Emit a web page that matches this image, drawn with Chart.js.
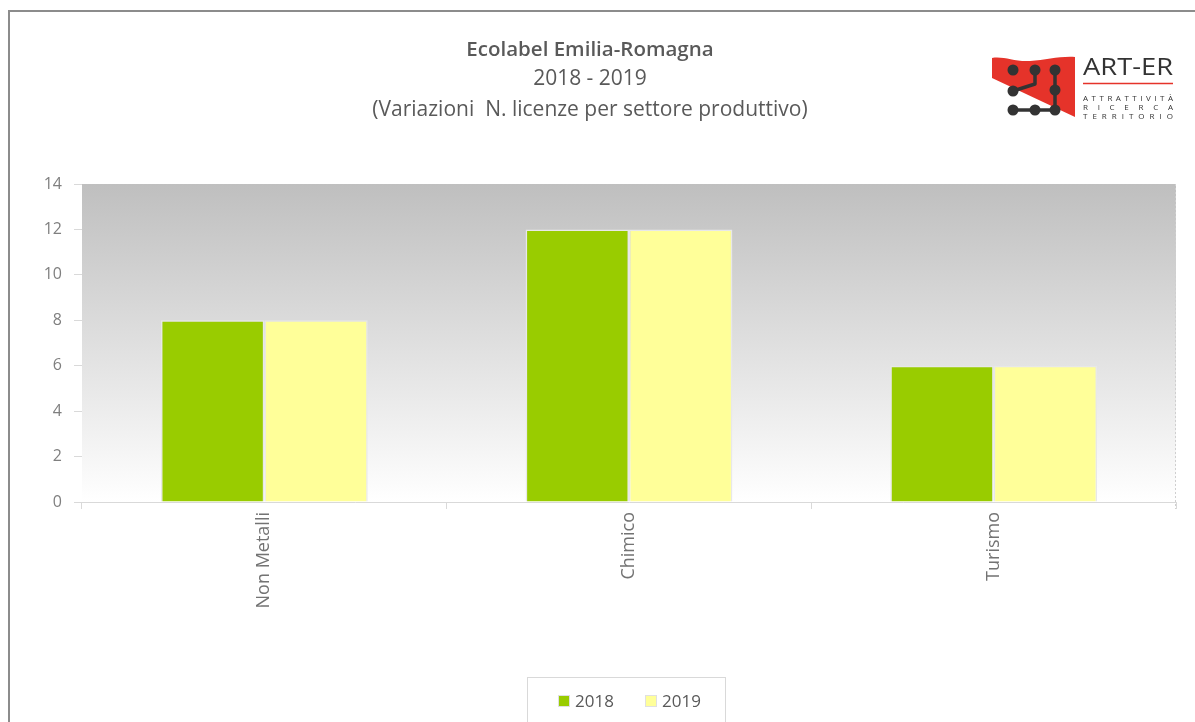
<!DOCTYPE html>
<html>
<head>
<meta charset="utf-8">
<title>Ecolabel Emilia-Romagna</title>
<script src="https://cdn.jsdelivr.net/npm/chart.js@4"></script>
<style>
  html, body { margin: 0; padding: 0; background: #fff; overflow: hidden; }
  body { width: 1195px; height: 722px; position: relative; font-family: "Open Sans", Lato, sans-serif; color: #595959; }
  #frame { position: absolute; left: 8px; top: 10px; width: 1300px; height: 800px;
           border-left: 2px solid #8c8c8c; border-top: 2px solid #8c8c8c; }
  #chart { position: absolute; left: 0; top: 0; }
  .t { position: absolute; left: 0; width: 1180px; text-align: center; font-size: 21px; line-height: 24px; white-space: nowrap; }
  .t1 { top: 36px; font-weight: 600; font-size: 20.5px; }
  .t2 { top: 65px; }
  .t3 { top: 96px; }
  #logo { position: absolute; left: 985px; top: 45px; }
  #legend { position: absolute; left: 527px; top: 677px; width: 199px; height: 80px;
            border: 1px solid #d9d9d9; box-sizing: border-box; }
  .item { position: absolute; top: 12px; font-size: 17px; line-height: 22px; color: #595959; }
  .sw { display: inline-block; width: 10px; height: 10px; border: 1px solid #e0e0e0; margin-right: 5px; vertical-align: 0px; }
</style>
</head>
<body>
<div id="frame"></div>
<canvas id="chart" width="1195" height="722"></canvas>

<div class="t t1">Ecolabel Emilia-Romagna</div>
<div class="t t2">2018 - 2019</div>
<div class="t t3">(Variazioni&nbsp; N. licenze per settore produttivo)</div>

<svg id="logo" width="200" height="85" viewBox="985 45 200 85">
  <path d="M992 58 C1004 56 1014 62 1030 61 C1046 60 1060 56 1075 57 L1075 117 L992 78 Z" fill="#e5332a"/>
  <g stroke="#333" stroke-width="3.5" fill="none" stroke-linejoin="round">
    <path d="M1035 70 L1035 84 L1013 91"/>
    <path d="M1055 70 L1055 110"/>
    <path d="M1013 110 L1055 110"/>
  </g>
  <g fill="#333">
    <circle cx="1013" cy="70" r="5.5"/><circle cx="1035" cy="70" r="5.5"/><circle cx="1055" cy="70" r="5.5"/>
    <circle cx="1013" cy="91" r="5.5"/><circle cx="1055" cy="90" r="5.5"/>
    <circle cx="1013" cy="110" r="5.5"/><circle cx="1035" cy="110" r="5.5"/><circle cx="1055" cy="110" r="5.5"/>
  </g>
  <text x="1083" y="75" font-family="Open Sans, sans-serif" font-size="24" fill="#333" textLength="90" lengthAdjust="spacingAndGlyphs">ART-ER</text>
  <line x1="1083" y1="83.5" x2="1173" y2="83.5" stroke="#e5332a" stroke-width="1.5"/>
  <g font-family="Open Sans, sans-serif" font-size="8" fill="#333">
    <text x="1083" y="101" textLength="90" lengthAdjust="spacing">ATTRATTIVITÀ</text>
    <text x="1083" y="110" textLength="90" lengthAdjust="spacing">RICERCA</text>
    <text x="1083" y="119" textLength="90" lengthAdjust="spacing">TERRITORIO</text>
  </g>
</svg>

<div id="legend"></div>

<script>
// --- Data ---
const categories = ['Non Metalli', 'Chimico', 'Turismo'];
const seriesNames = ['2018', '2019'];
const values2018 = [8, 12, 6];
const values2019 = [8, 12, 6];
const yTicks = [0, 2, 4, 6, 8, 10, 12, 14];

const COLORS = ['#99cc00', '#ffff99'];
const AXIS = '#d9d9d9';
const FONT = '"Open Sans", Lato, sans-serif';

// --- Plot background: grey to white gradient + dashed right edge ---
const plotBg = {
  id: 'plotBg',
  beforeDatasetsDraw(chart) {
    const { ctx, chartArea: a } = chart;
    const g = ctx.createLinearGradient(0, a.top, 0, a.bottom);
    g.addColorStop(0, '#bfbfbf');
    g.addColorStop(1, '#ffffff');
    ctx.save();
    ctx.fillStyle = g;
    ctx.fillRect(a.left, a.top, a.right - a.left, a.bottom - a.top);
    ctx.strokeStyle = '#cfcfcf';
    ctx.lineWidth = 1;
    ctx.setLineDash([2, 2]);
    ctx.beginPath();
    ctx.moveTo(a.right - 0.5, a.top);
    ctx.lineTo(a.right - 0.5, a.bottom + 7);
    ctx.stroke();
    ctx.restore();
  }
};

// --- Chart ---
const chart = new Chart(document.getElementById('chart'), {
  type: 'bar',
  data: {
    labels: categories,
    datasets: [values2018, values2019].map((v, i) => ({
      label: seriesNames[i],
      data: v,
      backgroundColor: COLORS[i],
      borderColor: '#e8e8e8',
      borderWidth: 1.5,
      categoryPercentage: 0.567,
      barPercentage: 1.0
    }))
  },
  options: {
    responsive: false,
    maintainAspectRatio: false,
    animation: false,
    devicePixelRatio: 1,
    layout: { padding: { top: 184, right: 19, bottom: 0, left: 0 } },
    plugins: {
      legend: { display: false },
      tooltip: { enabled: false }
    },
    scales: {
      x: {
        grid: { drawOnChartArea: false, color: AXIS, tickLength: 7, offset: true },
        border: { color: AXIS },
        ticks: {
          color: '#737373', minRotation: 90, maxRotation: 90, padding: 3,
          font: { family: FONT, size: 18 }
        },
        afterFit(scale) { scale.height = 220; }
      },
      y: {
        min: 0, max: 14,
        afterBuildTicks(scale) { scale.ticks = yTicks.map(v => ({ value: v })); },
        grid: { drawOnChartArea: false, color: AXIS, tickLength: 8 },
        border: { color: AXIS },
        ticks: {
          color: '#7f7f7f', padding: 12,
          font: { family: FONT, size: 16 }
        },
        afterFit(scale) { scale.width = 82; }
      }
    }
  },
  plugins: [plotBg]
});

// --- Legend (html, off-centre like the source) ---
const legend = document.getElementById('legend');
const legendX = [30, 117];
chart.data.datasets.forEach((d, i) => {
  const el = document.createElement('div');
  el.className = 'item';
  el.style.left = legendX[i] + 'px';
  el.innerHTML = `<span class="sw" style="background:${d.backgroundColor}"></span>${d.label}`;
  legend.appendChild(el);
});
</script>
</body>
</html>
